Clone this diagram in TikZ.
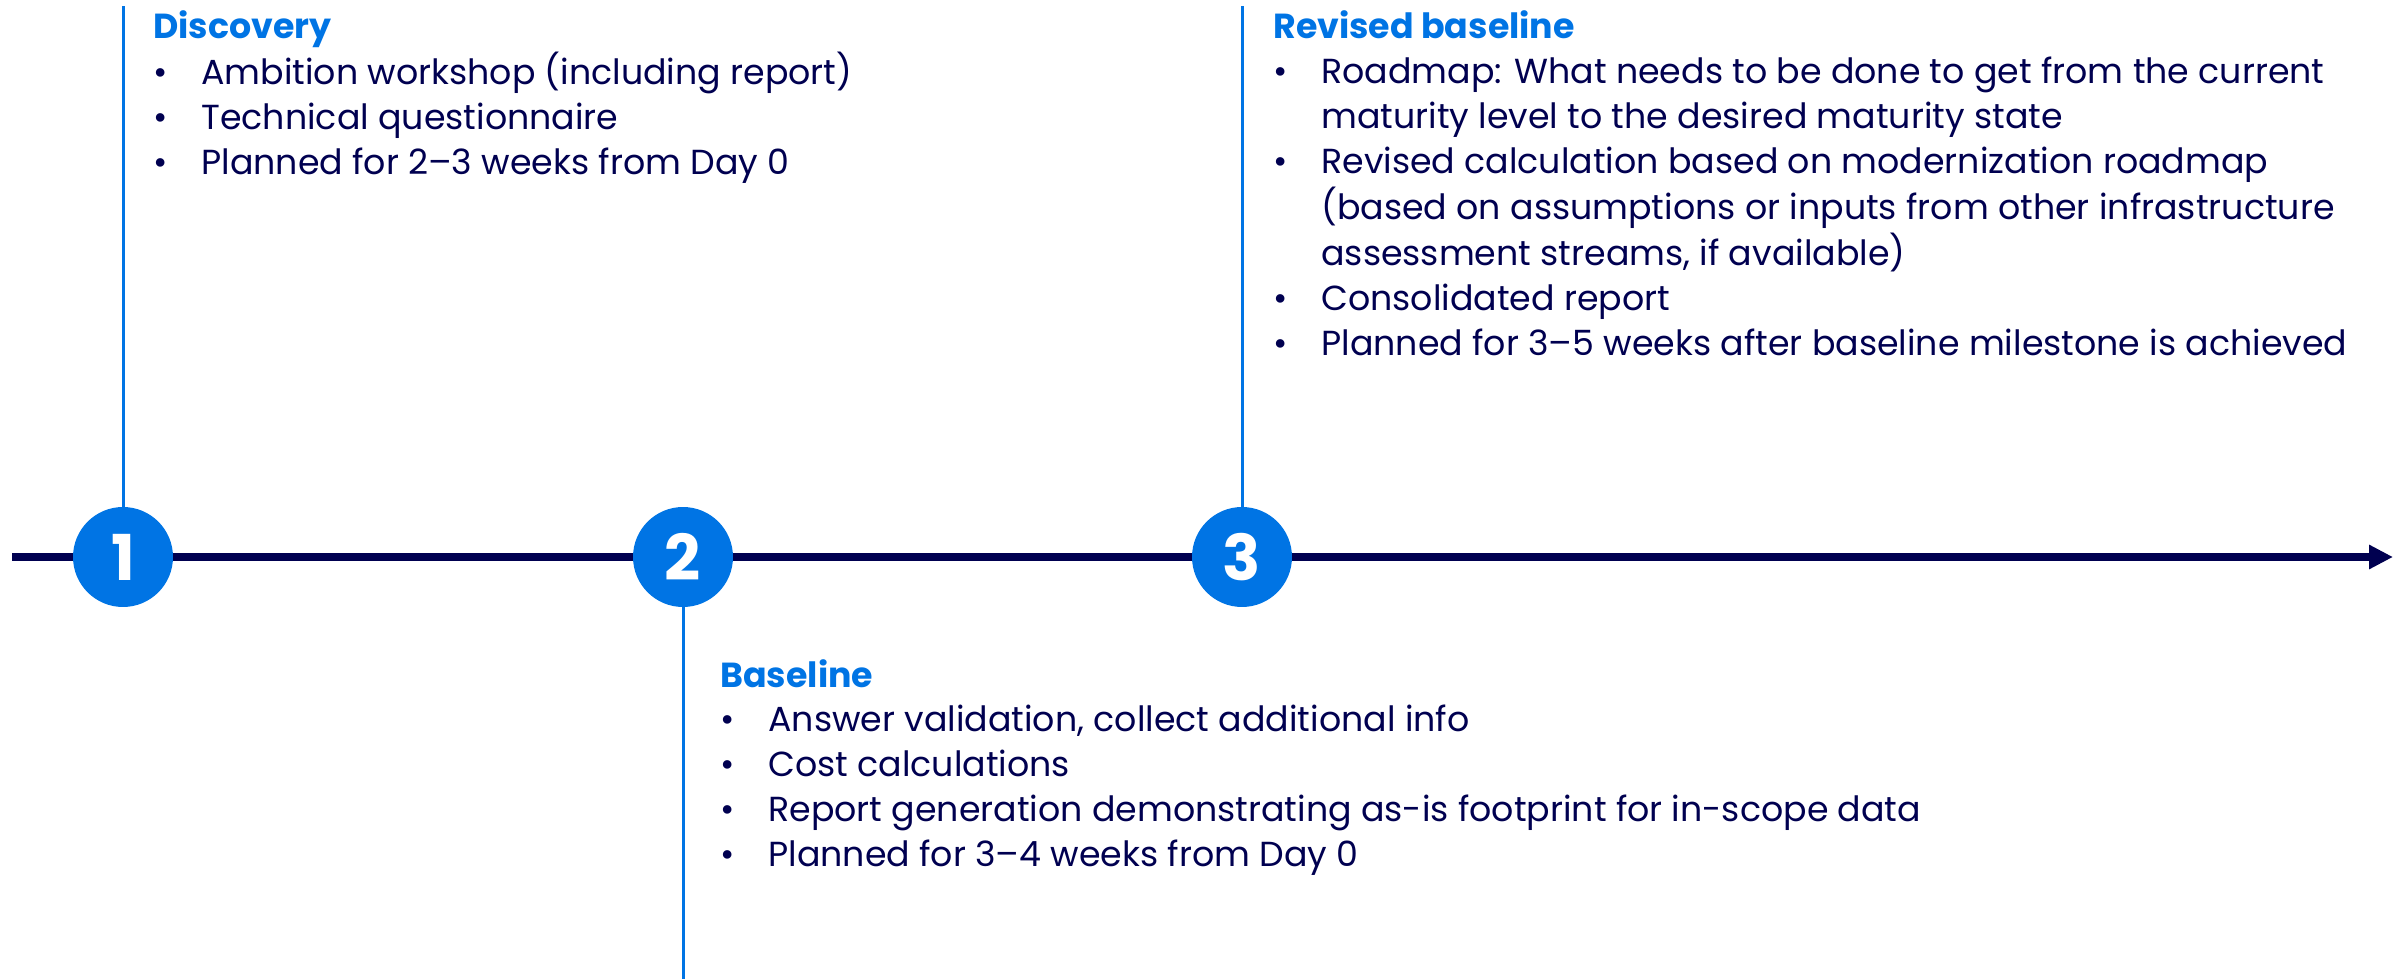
\documentclass[tikz,border=0pt]{standalone}
\usepackage{fontspec}
\setmainfont{Poppins}
\usetikzlibrary{arrows.meta,positioning}

\definecolor{navy}{RGB}{0,0,80}
\definecolor{brandblue}{RGB}{0,116,228}

% bullet line and heading of a phase
\newcommand{\itm}[1]{\makebox[0.96cm][l]{\hspace{0.01cm}•}#1}
\newcommand{\cnt}[1]{\hspace{0.96cm}#1}
\newcommand{\phasetitle}[1]{\textcolor{brandblue}{\bfseries #1}}

\begin{document}
\begin{tikzpicture}[
  x=0.02cm, y=-0.02cm,
  milestone/.style={circle, fill=brandblue, text=white, minimum size=2cm, inner sep=0pt,
    font=\fontsize{36}{40}\selectfont\bfseries},
  stem/.style={draw=brandblue, line width=0.06cm},
  phase/.style={anchor=base west, inner sep=0pt, text=navy,
    font=\fontsize{19.8}{25.6}\selectfont}
]
\useasboundingbox (0,0) rectangle (2405,979);

% Time axis
\coordinate (start) at (12,557);
\coordinate (end) at (2393,557);
\draw[navy, line width=0.17cm, -{Triangle[length=0.48cm,width=0.46cm]}] (start) -- (end);

% Milestones
\node[milestone] (m1) at (123,557) {1};
\node[milestone] (m2) at (683,557) {2};
\node[milestone] (m3) at (1242,557) {3};

% Stems
\coordinate (t1) at (123,6);
\coordinate (b2) at (683,979);
\coordinate (t3) at (1242,6);
\draw[stem] (m1) -- (t1);
\draw[stem] (m2) -- (b2);
\draw[stem] (m3) -- (t3);

% Phase descriptions
\node[phase] (discovery) at (153,39) {\begin{tabular}[t]{@{}l@{}}
\phasetitle{Discovery}\\
\itm{Ambition workshop (including report)}\\
\itm{Technical questionnaire}\\
\itm{Planned for 2–3 weeks from Day 0}
\end{tabular}};

\node[phase] (baseline) at (720,687) {\begin{tabular}[t]{@{}l@{}}
\phasetitle{Baseline}\\
\itm{Answer validation, collect additional info}\\
\itm{Cost calculations}\\
\itm{Report generation demonstrating as-is footprint for in-scope data}\\
\itm{Planned for 3–4 weeks from Day 0}
\end{tabular}};

\node[phase] (revised) at (1273,39) {\begin{tabular}[t]{@{}l@{}}
\phasetitle{Revised baseline}\\
\itm{Roadmap: What needs to be done to get from the current}\\
\cnt{maturity level to the desired maturity state}\\
\itm{Revised calculation based on modernization roadmap}\\
\cnt{(based on assumptions or inputs from other infrastructure}\\
\cnt{assessment streams, if available)}\\
\itm{Consolidated report}\\
\itm{Planned for 3–5 weeks after baseline milestone is achieved}
\end{tabular}};

\end{tikzpicture}
\end{document}
